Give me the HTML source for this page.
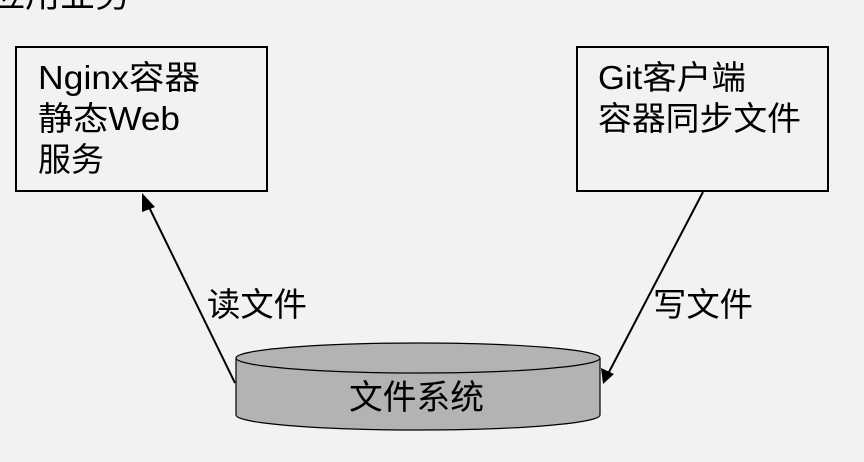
<!DOCTYPE html>
<html><head><meta charset="utf-8"><style>
html,body{margin:0;padding:0;background:#f2f2f2;width:864px;height:462px;overflow:hidden}
svg{display:block}
text{font-family:"Liberation Sans","Noto Sans CJK SC",sans-serif;fill:#000}
</style></head><body>
<svg width="864" height="462" viewBox="0 0 864 462">
<text x="-10" y="7" font-size="35">应用业务</text>
<rect x="16" y="47" width="251" height="144" fill="#f2f2f2" stroke="#000" stroke-width="2"/>
<text font-size="33"><tspan x="38" y="89" textLength="162" lengthAdjust="spacingAndGlyphs">Nginx容器</tspan><tspan x="38" y="130" textLength="142" lengthAdjust="spacingAndGlyphs">静态Web</tspan><tspan x="38" y="171">服务</tspan></text>
<rect x="577" y="47" width="251" height="144" fill="#f2f2f2" stroke="#000" stroke-width="2"/>
<text font-size="33"><tspan x="598" y="89" textLength="148" lengthAdjust="spacingAndGlyphs">Git客户端</tspan><tspan x="598" y="130" textLength="203" lengthAdjust="spacingAndGlyphs">容器同步文件</tspan></text>
<path d="M236,358 L236,415 A182,15 0 0 0 600,415 L600,358" fill="#b3b3b3" stroke="#000" stroke-width="1.2"/>
<ellipse cx="418" cy="358" rx="182" ry="15" fill="#b3b3b3" stroke="#000" stroke-width="1.2"/>
<text x="349" y="409" font-size="34" textLength="135" lengthAdjust="spacingAndGlyphs">文件系统</text>
<line x1="235" y1="383" x2="148" y2="205" stroke="#000" stroke-width="2"/>
<polygon points="142,193 155,207 142,212" fill="#000"/>
<line x1="703" y1="192" x2="609" y2="372" stroke="#000" stroke-width="2"/>
<polygon points="603,384 601,368 614,374" fill="#000"/>
<text x="207" y="316" font-size="33" textLength="100" lengthAdjust="spacingAndGlyphs">读文件</text>
<text x="653" y="316" font-size="33" textLength="100" lengthAdjust="spacingAndGlyphs">写文件</text>
</svg>
</body></html>
